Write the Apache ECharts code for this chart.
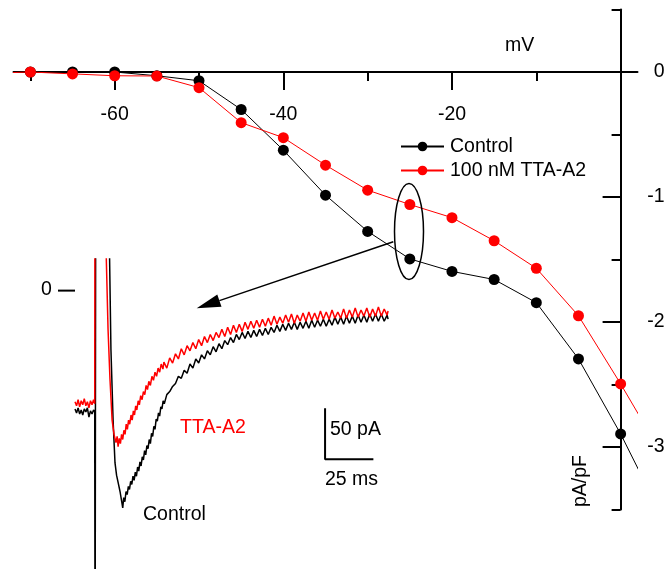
<!DOCTYPE html>
<html>
<head>
<meta charset="utf-8">
<script src="https://cdn.jsdelivr.net/npm/echarts@6/dist/echarts.min.js"></script>
<style>
html,body{margin:0;padding:0;background:#fff;}
#chart{width:666px;height:569px;}
</style>
</head>
<body>
<div id="chart"></div>
<script>
// ---- I-V curve data (mV, pA/pF) ----
const voltages = [-75,-70,-65,-60,-55,-50,-45,-40,-35,-30,-25,-20,-15,-10,-5,0,5];
const controlIV = [0,0,0,0,-0.03,-0.07,-0.30,-0.625,-0.985,-1.275,-1.495,-1.595,-1.66,-1.845,-2.295,-2.895,-3.57];
const ttaIV = [-0.01,0,-0.015,-0.03,-0.032,-0.125,-0.405,-0.525,-0.745,-0.945,-1.06,-1.165,-1.35,-1.57,-1.95,-2.495,-3.07];

const xMajorTicks = [-60,-40,-20,0];
const xMinorTicks = [-70,-50,-30,-10];
const xTickLabels = [-60,-40,-20];
const yMajorTicks = [-3,-2,-1,0];
const yMinorTicks = [-3.5,-2.5,-1.5,-0.5,0.5];
const yTickLabels = [0,-1,-2,-3];

// ---- inset current traces (ms, pA) ----
const controlTrace = [[0,-116],[0.8,-120],[1.6,-115],[2.4,-121],[3.2,-117],[4,-122],[4.8,-116],[5.6,-119],[6.4,-115],[7.2,-124],[8,-118],[8.8,-121],[9.6,-117],[10.2,-119],
[10.4,-400],[10.8,250],[17.6,250],
[17.9,31],[18.6,-58],[19.7,-127],[20.7,-169],[21.5,-181],[22.3,-188],[23.3,-197],[24,-205],[24.7,-213],[25.2,-203],[25.8,-207],[26.4,-197],[27,-200],[27.6,-192],[28.2,-195],[28.8,-187],[29.4,-190],[30,-182],[30.6,-186],[31.2,-178],[31.8,-182],[32.4,-173],[33,-177],[33.6,-168],[34.2,-172],[34.8,-163],[35.4,-166],[36,-157],[36.6,-161],[37.2,-152],[37.8,-155],[38.4,-146],[39,-150],[39.6,-140],[40.2,-143],[40.8,-133],[41.4,-136],[42,-126],[42.6,-128],[43.2,-120],[43.8,-123],[44.4,-114],[45,-116],[45.6,-108],[46.2,-111],
[47.5,-102],[49,-99],[50.5,-94],[52,-91],[53.5,-84],[55,-86],[56.5,-78],[58,-81],[59.5,-72],[61,-76],[62.5,-67],[64,-71],[65.5,-63],[67,-67],[68.5,-59],[70,-63],[71.5,-55],[73,-60],[74.5,-52],[76,-57],[77.5,-49],[79,-53],[80.5,-46],[82,-51],[83.5,-43],[85,-48],[86.5,-41],[88,-47],[89.5,-40],[91,-46],[92.5,-39],[94,-45],[95.5,-38],[97,-44],[98.5,-37],[100,-43],[101.5,-36],[103,-41],[104.5,-34],[106,-40],[107.5,-33],[109,-39],[110.5,-32],[112,-38],[113.5,-31],[115,-38],[116.5,-31],[118,-37],[119.5,-30],[121,-37],[122.5,-29],[124,-36],[125.5,-29],[127,-35],[128.5,-28],[130,-35],[131.5,-28],[133,-34],[134.5,-26],[136,-33],[137.5,-26],[139,-33],[140.5,-25],[142,-32],[143.5,-25],[145,-32],[146.5,-24],[148,-31],[149.5,-24],[151,-31],[152.5,-23],[154,-30],[155.5,-23],[157,-30],[158.5,-23],[160,-30],[161.5,-24],[162,-28]];

const ttaTrace = [[0,-109],[0.8,-113],[1.6,-107],[2.4,-114],[3.2,-108],[4,-112],[4.8,-106],[5.6,-113],[6.4,-109],[7.2,-115],[8,-108],[8.8,-112],[9.6,-107],[10.2,-111],
[10.4,250],[15.6,250],
[16.2,31],[17.1,-38],[18.1,-87],[19.2,-127],[20.2,-141],[21.2,-149],[21.8,-143],[22.3,-153],[22.9,-145],[23.5,-150],[24.1,-141],[24.7,-146],[25.3,-137],[25.9,-141],[26.5,-131],[27.1,-136],[27.7,-127],[28.3,-131],[29,-122],[29.6,-127],[30.2,-118],[30.8,-122],[31.4,-113],[32,-117],[32.7,-108],[33.3,-112],[34,-103],[34.7,-107],[35.4,-99],[36.1,-102],[36.8,-93],[37.5,-97],[38.2,-89],[39,-93],[39.8,-84],[40.6,-88],[41.4,-80],[42.2,-84],[43,-76],[43.8,-80],[44.6,-72],[45.5,-77],
[46,-70],[47.5,-76],[49,-66],[50.5,-71],[52,-62],[53.5,-67],[55,-57],[56.5,-63],[58,-54],[59.5,-59],[61,-51],[62.5,-57],[64,-48],[65.5,-54],[67,-45],[68.5,-51],[70,-43],[71.5,-49],[73,-41],[74.5,-46],[76,-38],[77.5,-45],[79,-36],[80.5,-43],[82,-34],[83.5,-41],[85,-33],[86.5,-40],[88,-31],[89.5,-38],[91,-30],[92.5,-37],[94,-29],[95.5,-36],[97,-28],[98.5,-35],[100,-27],[101.5,-34],[103,-25],[104.5,-33],[106,-26],[107.5,-32],[109,-24],[110.5,-31],[112,-23],[113.5,-32],[115,-24],[116.5,-30],[118,-22],[119.5,-30],[121,-21],[122.5,-29],[124,-22],[125.5,-29],[127,-20],[128.5,-28],[130,-21],[131.5,-28],[133,-19],[134.5,-27],[136,-21],[137.5,-27],[139,-18],[140.5,-27],[142,-19],[143.5,-26],[145,-17],[146.5,-26],[148,-19],[149.5,-25],[151,-17],[152.5,-26],[154,-18],[155.5,-25],[157,-16],[158.5,-25],[160,-18],[161.5,-24],[162,-20]];

// scale bars and zero marker (data units of inset)
const scaleBarPA = 50;
const scaleBarMs = 25;
const scaleBarOrigin = [129.4, -165.3];   // corner (ms, pA)
const zeroMarkTimes = [-8.8, 0];

const FONT = "'Liberation Sans', Arial, sans-serif";
const FS = 19.5;
const chart = echarts.init(document.getElementById('chart'), null, {renderer:'canvas'});

const mainX = {min:-72, max:2};
const mainY = {min:-3.5, max:0.5};

const option = {
  animation:false,
  backgroundColor:'#fff',
  textStyle:{fontFamily:FONT},
  grid:[
    {left:13.5, top:9.5, width:624, height:500, containLabel:false, outerBoundsMode:'none'},
    {left:58, top:259, width:332, height:310, containLabel:false, outerBoundsMode:'none'}
  ],
  legend:{
    orient:'vertical', left:400, top:136.5, padding:0, itemWidth:43, itemHeight:12, itemGap:4,
    textStyle:{fontFamily:FONT, fontSize:FS, lineHeight:20, color:'#000', padding:[0,0,0,1]},
    data:['Control','100 nM TTA-A2']
  },
  xAxis:[
    {type:'value', gridIndex:0, min:mainX.min, max:mainX.max, position:'bottom', offset:-437.5,
     axisLine:{onZero:false, lineStyle:{color:'#000', width:2}},
     axisTick:{customValues:xMajorTicks, length:18, lineStyle:{color:'#000', width:2}},
     axisLabel:{customValues:xTickLabels, margin:32.5, fontSize:FS, color:'#000', fontFamily:FONT},
     splitLine:{show:false}},
    {type:'value', gridIndex:0, min:mainX.min, max:mainX.max, position:'bottom', offset:-437.5,
     axisLine:{show:false, onZero:false},
     axisTick:{customValues:xMinorTicks, length:9, lineStyle:{color:'#000', width:2}},
     axisLabel:{show:false}, splitLine:{show:false}},
    {type:'value', gridIndex:1, min:-8.8, max:163, show:false, splitLine:{show:false}}
  ],
  yAxis:[
    {type:'value', gridIndex:0, min:mainY.min, max:mainY.max, position:'right', offset:-16.9,
     axisLine:{onZero:false, lineStyle:{color:'#000', width:2}},
     axisTick:{inside:true, customValues:yMajorTicks, length:18, lineStyle:{color:'#000', width:2}},
     axisLabel:{customValues:yTickLabels, margin:44, align:'right', fontSize:FS, color:'#000', fontFamily:FONT},
     splitLine:{show:false}},
    {type:'value', gridIndex:0, min:mainY.min, max:mainY.max, position:'right', offset:-16.9,
     axisLine:{show:false, onZero:false},
     axisTick:{inside:true, customValues:yMinorTicks, length:9, lineStyle:{color:'#000', width:2}},
     axisLabel:{show:false}, splitLine:{show:false}},
    {type:'value', gridIndex:1, min:-273, max:31, show:false, splitLine:{show:false}}
  ],
  series:[
    {name:'Control', type:'line', xAxisIndex:0, yAxisIndex:0,
     data:voltages.map((v,i)=>[v, controlIV[i]]),
     symbol:'circle', symbolSize:11, showAllSymbol:true,
     lineStyle:{color:'#000', width:1}, itemStyle:{color:'#000'}, z:3},
    {name:'100 nM TTA-A2', type:'line', xAxisIndex:0, yAxisIndex:0,
     data:voltages.map((v,i)=>[v, ttaIV[i]]),
     symbol:'circle', symbolSize:11, showAllSymbol:true,
     lineStyle:{color:'#ff0000', width:1}, itemStyle:{color:'#ff0000'}, z:4},
    {name:'controlTrace', type:'line', xAxisIndex:2, yAxisIndex:2, data:controlTrace,
     showSymbol:false, symbol:'none', lineStyle:{color:'#000', width:1.5}, z:3},
    {name:'ttaTrace', type:'line', xAxisIndex:2, yAxisIndex:2, data:ttaTrace,
     showSymbol:false, symbol:'none', lineStyle:{color:'#ff0000', width:1.5}, z:4},
    {name:'scaleBars', type:'line', xAxisIndex:2, yAxisIndex:2,
     data:[[scaleBarOrigin[0], scaleBarOrigin[1]+scaleBarPA],[scaleBarOrigin[0], scaleBarOrigin[1]],[scaleBarOrigin[0]+scaleBarMs, scaleBarOrigin[1]]],
     showSymbol:false, symbol:'none', lineStyle:{color:'#000', width:2}, z:3},
    {name:'zeroMark', type:'line', xAxisIndex:2, yAxisIndex:2,
     data:zeroMarkTimes.map(t=>[t,0]),
     showSymbol:false, symbol:'none', lineStyle:{color:'#000', width:2}, z:3}
  ],
  graphic:[
    {type:'text', left:505, top:36, style:{text:'mV', font:FS+'px '+FONT, fill:'#000'}},
    {type:'text', x:571, y:507, rotation:Math.PI/2, style:{text:'pA/pF', font:FS+'px '+FONT, fill:'#000'}},
    {type:'text', left:41, top:280, style:{text:'0', font:FS+'px '+FONT, fill:'#000'}},
    {type:'text', left:180, top:418, style:{text:'TTA-A2', font:FS+'px '+FONT, fill:'#ff0000'}},
    {type:'text', left:143, top:505, style:{text:'Control', font:FS+'px '+FONT, fill:'#000'}},
    {type:'text', left:330, top:420, style:{text:'50 pA', font:FS+'px '+FONT, fill:'#000'}},
    {type:'text', left:325, top:470, style:{text:'25 ms', font:FS+'px '+FONT, fill:'#000'}},
    {type:'ellipse', shape:{cx:409, cy:231.5, rx:14.5, ry:48}, style:{fill:'none', stroke:'#000', lineWidth:1.5}, z:10},
    {type:'line', shape:{x1:393.3, y1:241.7, x2:219.4, y2:300.6}, style:{stroke:'#000', lineWidth:1.5}, z:10},
    {type:'polygon', shape:{points:[[196.7,308.3],[221.5,306.8],[217.3,294.4]]}, style:{fill:'#000'}, z:10}
  ]
};
chart.setOption(option);
</script>
</body>
</html>
